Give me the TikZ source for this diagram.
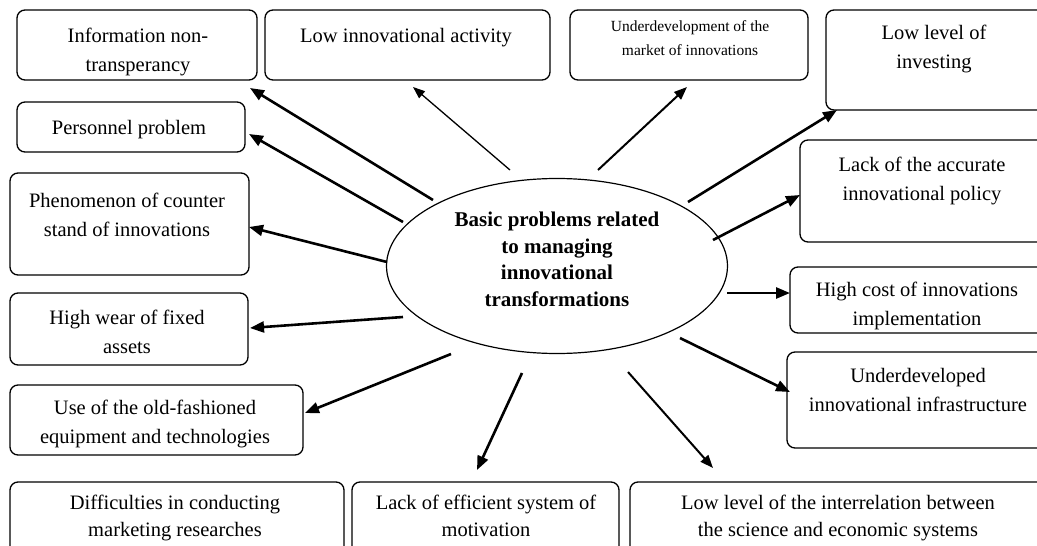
\documentclass[tikz,border=0pt]{standalone}
\usepackage{fontspec}
\setmainfont{Liberation Serif}
\usetikzlibrary{arrows.meta,shapes.geometric,fit}
\tikzset{
  box/.style={draw, line width=1.3pt, rounded corners=8pt, inner sep=0pt},
  lbl/.style={font=\fontsize{20.5}{29}\selectfont, align=center, inner sep=0pt, anchor=north},
  bottomlbl/.style={font=\fontsize{20.5}{27}\selectfont, align=center, inner sep=0pt, anchor=north},
  smalllbl/.style={font=\fontsize{15.5}{24}\selectfont, align=center, inner sep=0pt, anchor=north},
  centre/.style={draw, ellipse, line width=1.2pt, minimum width=341pt, minimum height=175pt, inner sep=0pt},
  centrelbl/.style={font=\bfseries\fontsize{21}{26.5}\selectfont, align=center, inner sep=0pt, anchor=north},
  thickarrow/.style={line width=2.6pt, -{Triangle[length=14pt,width=11pt]}},
  medarrow/.style={line width=2pt, -{Triangle[length=13pt,width=10pt]}},
  thinarrow/.style={line width=1.3pt, -{Triangle[length=12pt,width=9pt]}},
}
\begin{document}
\begin{tikzpicture}[x=1pt,y=-1pt]
\useasboundingbox (0,0) rectangle (1037,546);
\fill[white] (0,0) rectangle (1037,546);
\clip (0,0) rectangle (1037,546);
% boxes
\node[box, fit={(17,10) (257,80)}] (b1) {};
\node[lbl] (t1) at (138,28) {Information non-\\transperancy};
\node[box, fit={(265,10) (550,80)}] (b2) {};
\node[lbl] (t2) at (406,28) {Low innovational activity};
\node[box, fit={(570,10) (808,80)}] (b3) {};
\node[smalllbl] (t3) at (690,20) {Underdevelopment of the\\market of innovations};
\node[box, fit={(826,10) (1046,110)}] (b4) {};
\node[lbl] (t4) at (934,25) {Low level of\\investing};
\node[box, fit={(17,102) (245,152)}] (b5) {};
\node[lbl] (t5) at (129,120) {Personnel problem};
\node[box, fit={(10,173) (249,275)}] (b6) {};
\node[lbl] (t6) at (127,193) {Phenomenon of counter\\stand of innovations};
\node[box, fit={(800,140) (1046,242)}] (b14) {};
\node[lbl] (t14) at (922,157) {Lack of the accurate\\innovational policy};
\node[box, fit={(10,293) (248,365)}] (b7) {};
\node[lbl] (t7) at (127,310) {High wear of fixed\\assets};
\node[box, fit={(790,267) (1046,333)}] (b13) {};
\begin{scope}
\clip (790,267) rectangle (1046,332);
\node[lbl] (t13) at (917,282) {High cost of innovations\\implementation};
\end{scope}
\node[box, fit={(787,352) (1046,448)}] (b12) {};
\node[lbl] (t12) at (918,368) {Underdeveloped\\innovational infrastructure};
\node[box, fit={(10,385) (303,455)}] (b8) {};
\node[lbl] (t8) at (155,400) {Use of the old-fashioned\\equipment and technologies};
\node[box, fit={(10,482) (344,560)}] (b9) {};
\node[bottomlbl] (t9) at (175,495) {Difficulties in conducting\\marketing researches};
\node[box, fit={(352,482) (619,560)}] (b10) {};
\node[bottomlbl] (t10) at (486,495) {Lack of efficient system of\\motivation};
\node[box, fit={(630,482) (1046,560)}] (b11) {};
\node[bottomlbl] (t11) at (838,495) {Low level of the interrelation between\\the science and economic systems};
% centre
\node[centre] (c) at (557,266) {};
\node[centrelbl] (ct) at (557,212) {Basic problems related\\to managing\\innovational\\transformations};
% arrow ends
\coordinate (a1) at (433,200); \coordinate (e1) at (250,88);
\coordinate (a2) at (510,170); \coordinate (e2) at (413,87);
\coordinate (a3) at (598,170); \coordinate (e3) at (687,87);
\coordinate (a4) at (688,202); \coordinate (e4) at (837,110);
\coordinate (a5) at (403,222); \coordinate (e5) at (249,134);
\coordinate (a6) at (387,262); \coordinate (e6) at (249,227);
\coordinate (a14) at (713,240); \coordinate (e14) at (800,195);
\coordinate (a7) at (403,317); \coordinate (e7) at (250,328);
\coordinate (a13) at (727,293); \coordinate (e13) at (790,293);
\coordinate (a8) at (451,354); \coordinate (e8) at (305,413);
\coordinate (a10) at (522,373); \coordinate (e10) at (477,470);
\coordinate (a12) at (680,338); \coordinate (e12) at (790,392);
\coordinate (a11) at (628,372); \coordinate (e11) at (713,468);
\draw[thickarrow] (a1) -- (e1);
\draw[thinarrow] (a2) -- (e2);
\draw[medarrow] (a3) -- (e3);
\draw[thickarrow] (a4) -- (e4);
\draw[thickarrow] (a5) -- (e5);
\draw[thickarrow] (a6) -- (e6);
\draw[thickarrow] (a14) -- (e14);
\draw[thickarrow] (a7) -- (e7);
\draw[thickarrow] (a13) -- (e13);
\draw[thickarrow] (a8) -- (e8);
\draw[thickarrow] (a10) -- (e10);
\draw[thickarrow] (a12) -- (e12);
\draw[medarrow] (a11) -- (e11);
\end{tikzpicture}
\end{document}
